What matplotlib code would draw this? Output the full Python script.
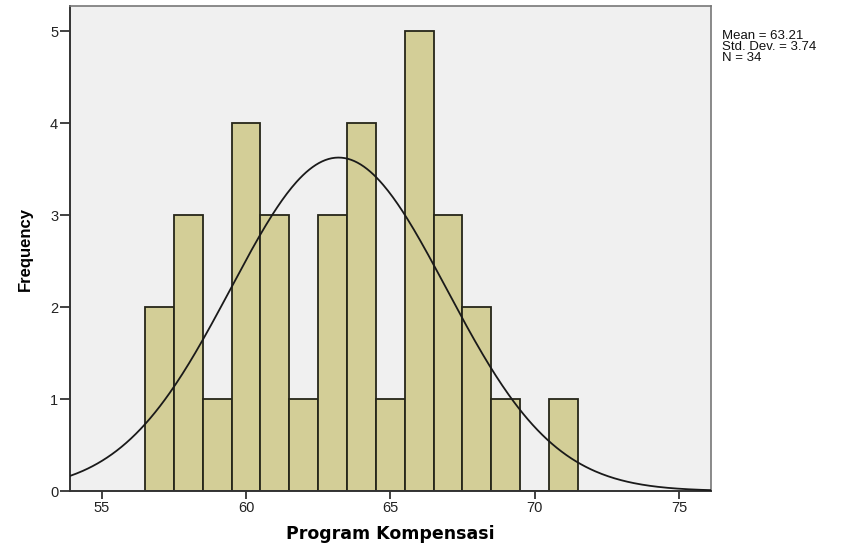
import numpy as np
import matplotlib.pyplot as plt

# SPSS style histogram with normal curve
scores = [57, 58, 59, 60, 61, 62, 63, 64, 65, 66, 67, 68, 69, 70, 71]
counts = [2, 3, 1, 4, 3, 1, 3, 4, 1, 5, 3, 2, 1, 0, 1]
xticks = [55, 60, 65, 70, 75]
yticks = [0, 1, 2, 3, 4, 5]

vals = np.repeat(scores, counts)
n = len(vals)
mean = vals.mean()
sd = vals.std(ddof=1)

plt.rcParams['font.family'] = ['Liberation Sans', 'DejaVu Sans']

fig = plt.figure(figsize=(8.43, 5.46), dpi=100)
ax = fig.add_axes([0.083, 0.1007, 0.7604, 0.8874])
ax.set_facecolor('#f0f0f0')

ax.bar(scores, counts, width=1.0, color='#d3ce97', edgecolor='#262619', linewidth=1.3, zorder=2)

xs = np.linspace(53.9, 76.11, 400)
ys = n * 1.0 * np.exp(-0.5 * ((xs - mean) / sd) ** 2) / (sd * np.sqrt(2 * np.pi))
ax.plot(xs, ys, color='#1a1a1a', linewidth=1.3, zorder=3)

ax.set_xlim(53.9, 76.11)
ax.set_ylim(0, 5.27)
ax.set_xticks(xticks)
ax.set_yticks(yticks)
ax.tick_params(width=1.3, color='#333333', labelsize=10.5, labelcolor='#222222')
ax.tick_params(axis='x', length=5.5, pad=2)
ax.tick_params(axis='y', length=7.5, pad=1)

for s in ['left', 'bottom']:
    ax.spines[s].set_color('#333333')
    ax.spines[s].set_linewidth(1.4)
for s in ['top', 'right']:
    ax.spines[s].set_color('#777777')
    ax.spines[s].set_linewidth(1.2)

ax.set_xlabel('Program Kompensasi', fontsize=12.5, fontweight='bold', labelpad=7,
              family=['DejaVu Sans'])
ax.set_ylabel('Frequency', fontsize=12, fontweight='bold', labelpad=12)

fig.text(722 / 843, 1 - 30 / 546,
         'Mean = %.2f\nStd. Dev. = %.2f\nN = %d' % (mean, sd, n),
         fontsize=9.5, va='top', ha='left', linespacing=0.88, color='#111111')

fig.savefig('out.png', dpi=100)
